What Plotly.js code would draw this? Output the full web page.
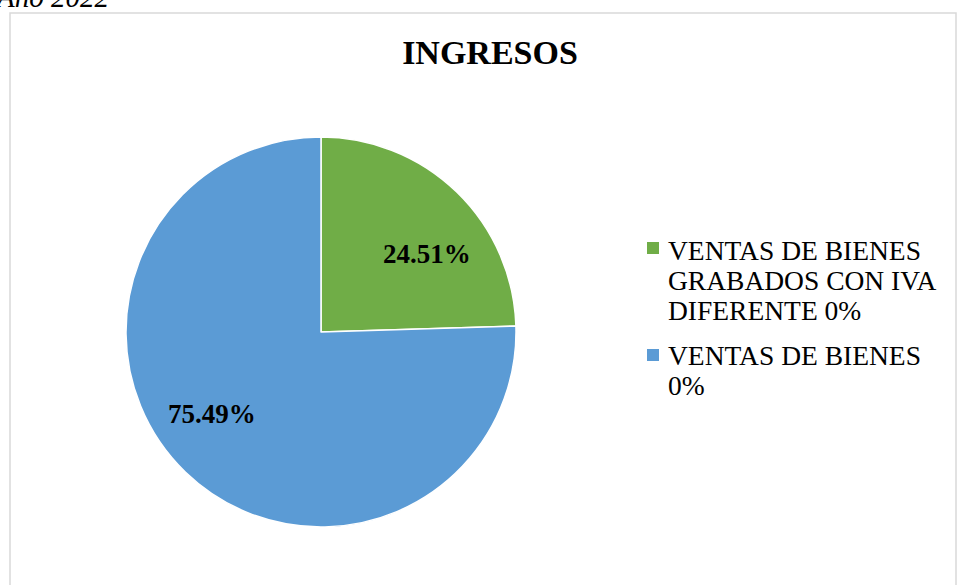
<!DOCTYPE html>
<html>
<head>
<meta charset="utf-8">
<script src="https://cdn.plot.ly/plotly-3.0.1.min.js"></script>
<style>html,body{margin:0;padding:0;background:#fff;}#chart{width:957px;height:585px;}</style>
</head>
<body>
<div id="chart"></div>
<script>
var categories = ["VENTAS DE BIENES<br>GRABADOS CON IVA<br>DIFERENTE 0%", "VENTAS DE BIENES<br>0%"];
var values = [24.51, 75.49];
var colors = ["#70ad47", "#5b9bd5"];
var chartTitle = "INGRESOS";
var caption = "Año 2022";

var total = values.reduce(function(a, b){ return a + b; }, 0);
var pctText = values.map(function(v){ return (v / total * 100).toFixed(2) + "%"; });
function bigLines(c){
  return c.split("<br>").map(function(line){
    return '<span style="font-size:27.5px">' + line + '</span>';
  }).join("<br>");
}

var serif = "Liberation Serif, Times New Roman, serif";

var trace = {
  type: "pie",
  labels: categories,
  values: values,
  sort: false,
  direction: "clockwise",
  rotation: 0,
  textinfo: "none",
  hoverinfo: "label+percent",
  showlegend: false,
  marker: {colors: colors, line: {color: "#ffffff", width: 1.5}},
  domain: {x: [126/957, 516/957], y: [58/585, 448/585]}
};

// legend entry placement (px from top of page)
var legendTops = [242, 349];
var legendTextTops = [233, 338];

var shapes = [{type: "rect", xref: "paper", yref: "paper", x0: 10/957, x1: 956/957, y0: -0.05, y1: 1 - 13/585,
               line: {color: "#d9d9d9", width: 1.5}, fillcolor: "rgba(0,0,0,0)"}];
var annotations = [
  {text: "<i>" + caption + "</i>", xref: "paper", yref: "paper", x: -7/957, xanchor: "left",
   y: 1 - 15/585, yanchor: "bottom", showarrow: false, font: {family: serif, size: 29, color: "#000000"}},
  {text: "<b>" + pctText[0] + "</b>", xref: "paper", yref: "paper", x: 426.5/957, xanchor: "center",
   y: 1 - 254/585, yanchor: "middle", showarrow: false, font: {family: serif, size: 27, color: "#000000"}},
  {text: "<b>" + pctText[1] + "</b>", xref: "paper", yref: "paper", x: 212/957, xanchor: "center",
   y: 1 - 414/585, yanchor: "middle", showarrow: false, font: {family: serif, size: 27, color: "#000000"}}
];
categories.forEach(function(c, i){
  shapes.push({type: "rect", xref: "paper", yref: "paper",
               x0: 647/957, x1: 659/957, y0: 1 - (legendTops[i] + 12)/585, y1: 1 - legendTops[i]/585,
               line: {width: 0}, fillcolor: colors[i]});
  annotations.push({text: bigLines(c), xref: "paper", yref: "paper", x: 666/957, xanchor: "left", align: "left",
                    y: 1 - legendTextTops[i]/585, yanchor: "top", showarrow: false,
                    font: {family: serif, size: 23, color: "#000000"}});
});

var layout = {
  width: 957, height: 585,
  margin: {l: 0, r: 0, t: 0, b: 0},
  paper_bgcolor: "#ffffff",
  font: {family: serif, color: "#000000"},
  title: {text: "<b>" + chartTitle + "</b>", font: {family: serif, size: 34, color: "#000000"},
          x: 490/957, xanchor: "center", y: 1 - 52.1/585, yanchor: "middle"},
  showlegend: false,
  shapes: shapes,
  annotations: annotations
};

Plotly.newPlot("chart", [trace], layout, {displayModeBar: false, staticPlot: true});
</script>
</body>
</html>
